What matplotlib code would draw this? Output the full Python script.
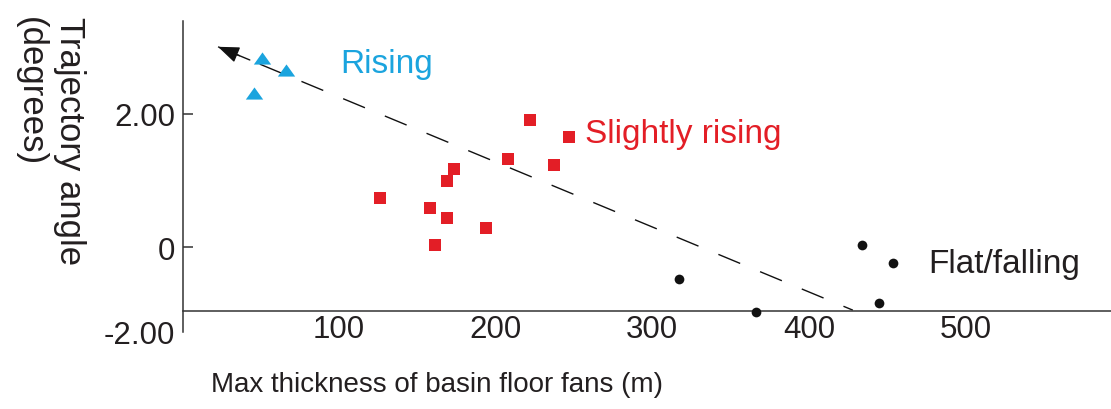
import matplotlib
matplotlib.use("Agg")
import matplotlib.pyplot as plt
import numpy as np

plt.rcParams['font.family'] = ['Liberation Sans', 'DejaVu Sans']

# ---- data ----
rising_x = [51.0, 66.9, 46.5]
rising_y = [2.84, 2.66, 2.32]

slight_x = [222.1, 247.0, 208.1, 237.4, 173.7, 169.2, 126.5, 158.4, 169.2, 194.1, 161.6]
slight_y = [1.91, 1.65, 1.32, 1.23, 1.17, 0.99, 0.74, 0.59, 0.44, 0.29, 0.03]

flat_x = [317.1, 366.2, 433.7, 453.5, 444.7]
flat_y = [-0.48, -0.98, 0.03, -0.24, -0.84]

trend_x = [23.3, 427.9]
trend_y = [3.01, -0.95]

xtick_vals = [100, 200, 300, 400, 500]
xtick_labels = ['100', '200', '300', '400', '500']
ytick_vals = [0, 2]
ytick_labels = ['0', '2.00']
ybottom_val = -1.27
ybottom_label = '-2.00'

BLUE = '#1BA4DE'
RED = '#E31E26'
TXT = '#231F20'
AX = '#333333'

fig = plt.figure(figsize=(11.11, 4.10), dpi=100)
ax = fig.add_axes([183 / 1111, 77 / 410, (1111 - 183) / 1111, 311 / 410])
ax.set_xlim(0.96, 592.4)
ax.set_ylim(-1.278, 3.398)

for s in ['top', 'right']:
    ax.spines[s].set_visible(False)
ax.spines['bottom'].set_position(('data', -0.962))
for s in ['left', 'bottom']:
    ax.spines[s].set_color(AX)
    ax.spines[s].set_linewidth(1.1)

# trend line with arrow
ax.plot(trend_x, trend_y, color='#111111', lw=1.0, dashes=(17, 15.5), zorder=2)
tx0, ty0 = trend_x[0], trend_y[0]
frac = 0.05
tx1 = tx0 + (trend_x[1] - tx0) * frac
ty1 = ty0 + (trend_y[1] - ty0) * frac
ax.annotate('', xy=(tx0, ty0), xytext=(tx1, ty1),
            arrowprops=dict(arrowstyle='-|>,head_length=0.65,head_width=0.25',
                            color='#111111', lw=1.0, mutation_scale=20,
                            shrinkA=0, shrinkB=0), zorder=3)

tri = [(0, 0.7), (-1, -0.7), (1, -0.7), (0, 0.7)]
ax.plot(rising_x, rising_y, linestyle='none', marker=tri, markersize=12.5,
        color=BLUE, markeredgewidth=0, zorder=4)
ax.plot(slight_x, slight_y, linestyle='none', marker='s', markersize=8,
        color=RED, markeredgewidth=0, zorder=4)
ax.plot(flat_x, flat_y, linestyle='none', marker='o', markersize=7,
        color='#111111', markeredgewidth=0, zorder=4)

ax.text(100.9, 2.63, 'Rising', color=BLUE, fontsize=24, ha='left', va='baseline')
ax.text(257.2, 1.58, 'Slightly rising', color=RED, fontsize=24, ha='left', va='baseline')
ax.text(475.8, -0.376, 'Flat/falling', color=TXT, fontsize=24, ha='left', va='baseline')

ax.set_xticks(xtick_vals)
ax.set_xticklabels(xtick_labels)
ax.tick_params(axis='x', length=0, pad=2, labelsize=22.5, labelcolor=TXT)

ax.set_yticks(ytick_vals)
ax.set_yticklabels(ytick_labels)
ax.set_yticks([ybottom_val], minor=True)
ax.set_yticklabels([ybottom_label], minor=True)
ax.tick_params(axis='y', which='major', direction='in', length=7.5, width=1.1,
               color=AX, pad=5.5, labelsize=22.5, labelcolor=TXT)
ax.tick_params(axis='y', which='minor', direction='in', length=0,
               pad=5.5, labelsize=22.5, labelcolor=TXT)

fig.text(437 / 1111, 1 - 385 / 410, 'Max thickness of basin floor fans (m)',
         fontsize=20, color=TXT, ha='center', va='center')
fig.text(50 / 1111, 1 - 17 / 410, 'Trajectory angle\n(degrees)', rotation=-90,
         fontsize=25, color=TXT, ha='center', va='top', multialignment='left',
         linespacing=1.25)

fig.savefig('out.png', dpi=100, facecolor='white')
